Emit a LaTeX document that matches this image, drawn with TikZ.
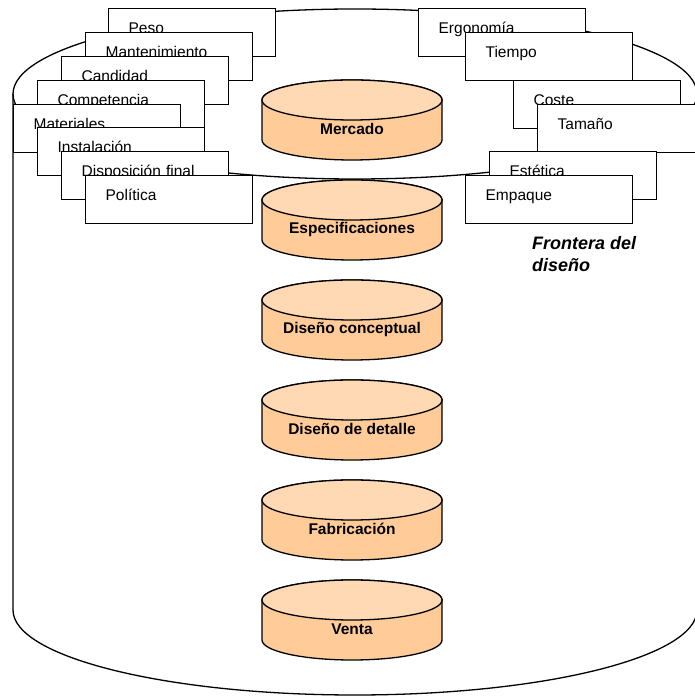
\documentclass[tikz,border=0pt]{standalone}
\usepackage{fontspec}
\setmainfont{Liberation Sans}
\definecolor{bodyorange}{HTML}{FFCC99}
\definecolor{toporange}{HTML}{FFD9B3}

\begin{document}
\begin{tikzpicture}[x=1pt,y=1pt,
  boundary/.style={line width=1.3pt},
  factorbox/.style={draw, fill=white, line width=1.3pt, anchor=north west, text width=127pt, inner xsep=20pt, inner ysep=0pt, minimum height=48pt, text height=12pt, text depth=11pt, align=left, font=\fontsize{15.5}{18}\selectfont},
  cylbody/.style={draw, line width=1.3pt, fill=bodyorange},
  cyltop/.style={draw, line width=1.3pt, fill=toporange},
  stage/.style={inner sep=0pt, font=\bfseries\fontsize{15.5}{18}\selectfont},
  frontier/.style={anchor=west, inner sep=0pt, align=left, font=\bfseries\itshape\fontsize{18}{22}\selectfont}]
\useasboundingbox[fill=white] (0,0) rectangle (694,696);
\draw[boundary] (355,602) ellipse [x radius=342pt, y radius=85pt];
\draw[boundary] (13,602) -- (13,86) arc [start angle=180, end angle=360, x radius=342pt, y radius=85pt] -- (697,602);
\node[factorbox] (peso) at (108,688) {Peso};
\node[factorbox] (mant) at (85,664)  {Mantenimiento};
\node[factorbox] (cand) at (61,640)  {Candidad};
\node[factorbox] (comp) at (37,616)  {Competencia};
\node[factorbox] (mate) at (13,592)  {Materiales};
\node[factorbox] (inst) at (37,569)  {Instalación};
\node[factorbox] (disp) at (61,545)  {Disposición final};
\node[factorbox] (poli) at (85,521)  {Política};
\node[factorbox] (ergo) at (418,688) {Ergonomía};
\node[factorbox] (tiem) at (465,664) {Tiempo};
\node[factorbox] (cost) at (513,616) {Coste};
\node[factorbox] (tama) at (537,592) {Tamaño};
\node[factorbox] (este) at (489,545) {Estética};
\node[factorbox] (empa) at (465,521) {Empaque};
\foreach \n/\t [count=\i from 0] in {merc/Mercado, espe/Especificaciones, conc/Diseño conceptual, deta/Diseño de detalle, fabr/Fabricación, vent/Venta} {
  \path[cylbody] (262,596-100*\i) -- (262,556-100*\i) arc [start angle=180, end angle=360, x radius=90pt, y radius=20pt] -- (442,596-100*\i) arc [start angle=0, end angle=180, x radius=90pt, y radius=20pt] -- cycle;
  \path[cyltop] (352,596-100*\i) ellipse [x radius=90pt, y radius=20pt];
  \node[stage] (\n) at (352,567-100*\i) {\t};
}
\node[frontier] (frontera) at (532,442) {Frontera del\\diseño};
\end{tikzpicture}
\end{document}
